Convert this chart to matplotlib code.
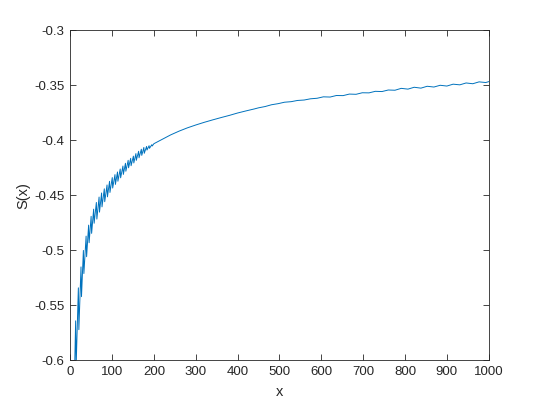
import matplotlib
matplotlib.use("Agg")
import matplotlib.pyplot as plt
import numpy as np

# sawtooth part (0..200): alternating tops / bottoms
saw_x = [1, 6.5, 7.7, 13, 14.2, 19.5, 20.7, 25.8, 27, 31.5, 32.7, 38, 39.2,
         44, 45.2, 50, 51.2, 56, 57.2, 62.5, 63.7, 69, 70, 75, 76, 81.5, 82.5,
         88, 89, 94, 95, 100.5, 101.5, 107, 108, 113, 114, 119.5, 120.5,
         126, 127, 132, 133, 138.5, 139.5, 144.5, 145.5, 151, 152, 157, 158,
         163.5, 164.5, 170, 171, 176, 177, 182.5, 183.5, 188.5, 189.5, 195, 196]
saw_y = [-0.75, -0.605, -0.66, -0.564, -0.605, -0.534, -0.572, -0.515, -0.542,
         -0.500, -0.521, -0.487, -0.5057, -0.477, -0.493, -0.469, -0.4845,
         -0.4625, -0.4753, -0.4564, -0.4715, -0.4515, -0.4652, -0.4478, -0.4604,
         -0.4440, -0.4557, -0.4405, -0.4513, -0.4372, -0.4473, -0.4338, -0.4433,
         -0.4311, -0.4400, -0.4287, -0.4371, -0.4260, -0.4340, -0.4233, -0.4309,
         -0.4208, -0.4280, -0.4181, -0.4249, -0.4163, -0.4230, -0.4143, -0.4205,
         -0.4120, -0.4181, -0.4099, -0.4158, -0.4080, -0.4136, -0.4064, -0.4117,
         -0.4055, -0.4088, -0.4048, -0.4072, -0.4039, -0.4051]

# smooth / slightly wavy tail (200..1000)
tail_x = [200, 220, 240, 260, 280, 300, 320, 340, 360, 380, 400, 420, 440,
          450, 466, 481, 497, 512, 528, 543, 559, 574, 590, 605, 621, 636, 652,
          667, 683, 698, 714, 729, 745, 760, 776, 791, 807, 822, 838, 853, 869,
          884, 900, 915, 931, 946, 962, 977, 993, 1000]
tail_y = [-0.4030, -0.3990, -0.3950, -0.3916, -0.3886, -0.3860, -0.3836,
          -0.3814, -0.3793, -0.3773, -0.3751, -0.3732, -0.3714,
          -0.3704, -0.3692, -0.3676, -0.3666, -0.3653, -0.3648, -0.3637, -0.3633,
          -0.3622, -0.3617, -0.3604, -0.3606, -0.3592, -0.3593, -0.3579, -0.3581,
          -0.3567, -0.3568, -0.3554, -0.3556, -0.3542, -0.3544, -0.3527, -0.3534,
          -0.3517, -0.3525, -0.3508, -0.3515, -0.3499, -0.3506, -0.3489, -0.3495,
          -0.3478, -0.3485, -0.3468, -0.3474, -0.3466]

xticks = [0, 100, 200, 300, 400, 500, 600, 700, 800, 900, 1000]
yticks = [-0.6, -0.55, -0.5, -0.45, -0.4, -0.35, -0.3]
ytick_labels = ["-0.6", "-0.55", "-0.5", "-0.45", "-0.4", "-0.35", "-0.3"]

plt.rcParams["font.family"] = ["Liberation Sans", "DejaVu Sans"]
plt.rcParams["axes.unicode_minus"] = False

axcol = "#262626"
fig = plt.figure(figsize=(5.4, 4.05), dpi=100)
ax = fig.add_axes([0.13, 0.11, 0.775, 0.815])

xs = np.array(saw_x + tail_x)
ys = np.array(saw_y + tail_y)
ax.plot(xs, ys, color="#0072BD", linewidth=0.7)

ax.set_xlim(0, 1000)
ax.set_ylim(-0.6, -0.3)
ax.set_xticks(xticks)
ax.set_xticklabels([str(t) for t in xticks])
ax.set_yticks(yticks)
ax.set_yticklabels(ytick_labels)

ax.tick_params(direction="in", length=4, width=0.6, colors=axcol,
               labelsize=9.5, top=True, right=True, pad=4)
for sp in ax.spines.values():
    sp.set_color(axcol)
    sp.set_linewidth(0.6)

ax.set_xlabel("x", fontsize=10.5, color=axcol, labelpad=5)
ax.set_ylabel("S(x)", fontsize=10.5, color=axcol, labelpad=3)

fig.savefig("out.png", dpi=100)
plt.close(fig)
